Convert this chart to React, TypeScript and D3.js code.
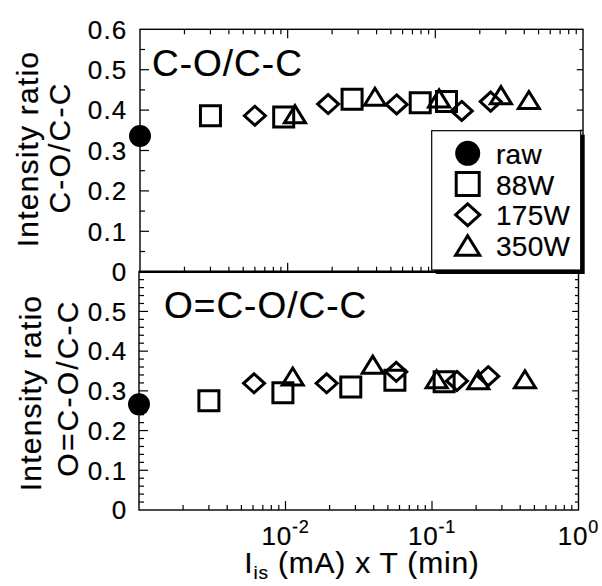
import React from 'react';
import * as d3 from 'd3';

// C-O/C-C panel (top)
const coRawX = [0.001];
const coRawY = [0.336];
const co88X = [0.003, 0.0094, 0.0273, 0.079, 0.119];
const co88Y = [0.386, 0.383, 0.427, 0.418, 0.421];
const co175X = [0.006, 0.0188, 0.0547, 0.151, 0.237];
const co175Y = [0.386, 0.415, 0.414, 0.398, 0.421];
const co350X = [0.0112, 0.039, 0.106, 0.278, 0.43];
const co350Y = [0.39, 0.433, 0.429, 0.437, 0.425];

// O=C-O/C-C panel (bottom)
const ocoRawX = [0.001];
const ocoRawY = [0.266];
const oco88X = [0.003, 0.0096, 0.0279, 0.0558, 0.121];
const oco88Y = [0.275, 0.295, 0.31, 0.327, 0.323];
const oco175X = [0.0061, 0.0191, 0.057, 0.148, 0.242];
const oco175Y = [0.319, 0.319, 0.348, 0.325, 0.337];
const oco350X = [0.0112, 0.0394, 0.1076, 0.207, 0.431];
const oco350Y = [0.336, 0.366, 0.329, 0.327, 0.329];

const legendLabels = ['raw', '88W', '175W', '350W'];
const yTickLabels = ['0', '0.1', '0.2', '0.3', '0.4', '0.5', '0.6'];
const xTickExponents = [-2, -1, 0];

const FONT = '"Liberation Sans", Arial, Helvetica, sans-serif';
// slight stroke to get the heavier look of the scanned text
const txt = { fontFamily: FONT, fill: '#000', stroke: '#000', strokeWidth: 0.2 };

// marker shapes, "size" is the half width
const shapes: any = {
  circle: { draw(ctx: any, s: number) { ctx.moveTo(s, 0); ctx.arc(0, 0, s, 0, 2 * Math.PI); } },
  square: { draw(ctx: any, s: number) { ctx.rect(-s, -s, 2 * s, 2 * s); } },
  diamond: {
    draw(ctx: any, s: number) {
      ctx.moveTo(0, -s * 0.95); ctx.lineTo(s * 1.05, 0); ctx.lineTo(0, s * 0.95); ctx.lineTo(-s * 1.05, 0); ctx.closePath();
    }
  },
  triangle: {
    draw(ctx: any, s: number) {
      ctx.moveTo(0, -s * 0.85); ctx.lineTo(s * 1.05, s * 0.85); ctx.lineTo(-s * 1.05, s * 0.85); ctx.closePath();
    }
  }
};
const shapeOrder = ['circle', 'square', 'diamond', 'triangle'];

function markerPath(shape: string, s: number) {
  return d3.symbol().type(shapes[shape]).size(s)() as string;
}

function Marker({ shape, x, y, s }: any) {
  const filled = shape === 'circle';
  return (
    <path d={markerPath(shape, s)} transform={`translate(${x},${y})`}
      fill={filled ? '#000' : 'none'} stroke={filled ? 'none' : '#000'}
      strokeWidth={3} strokeLinejoin="miter" />
  );
}

function Panel({ x, y, series, minorStep, label, labelX, labelY, showXLabels, showTopTicks, showTopTick06 }: any) {
  const [x0, x1] = x.range();
  const [y0, y1] = y.range(); // y0 bottom, y1 top
  const logTicks = x.ticks();
  const majorX = [1e-3, 1e-2, 1e-1, 1];
  const isMajorX = (t: number) => majorX.some(m => Math.abs(Math.log10(t) - Math.log10(m)) < 1e-6);
  const yMinor = d3.range(0, 0.6 + 1e-9, minorStep);
  const isMajorY = (v: number) => Math.abs(v * 10 - Math.round(v * 10)) < 1e-6;
  const ticks: any[] = [];
  logTicks.forEach((t: number, i: number) => {
    const len = isMajorX(t) ? 9 : 5;
    const px = x(t);
    if (px <= x0 + 0.5 || px >= x1 - 0.5) return;
    ticks.push(<line key={'xb' + i} x1={px} x2={px} y1={y0} y2={y0 - len} stroke="#000" strokeWidth={1.2} />);
    if (showTopTicks) ticks.push(<line key={'xt' + i} x1={px} x2={px} y1={y1} y2={y1 + len} stroke="#000" strokeWidth={1.2} />);
  });
  yMinor.forEach((v: number, i: number) => {
    const len = isMajorY(v) ? 9 : 5;
    const py = y(v);
    if (py >= y0 - 0.5 || py <= y1 + 0.5) return;
    ticks.push(<line key={'yl' + i} x1={x0} x2={x0 + len} y1={py} y2={py} stroke="#000" strokeWidth={1.2} />);
    ticks.push(<line key={'yr' + i} x1={x1} x2={x1 - len * 0.7} y1={py} y2={py} stroke="#000" strokeWidth={1.2} />);
  });
  return (
    <g>
      <rect x={x0} y={y1} width={x1 - x0} height={y0 - y1} fill="none" stroke="#000" strokeWidth={1.4} />
      {ticks}
      {yTickLabels.map((t, i) => (
        (i === 6 && !showTopTick06) ? null :
          <text key={'yl' + t} x={127.5} y={y(+t)} dy="0.36em" textAnchor="end" fontSize={26} letterSpacing={1.2}
            {...txt}>{t}</text>
      ))}
      {showXLabels && xTickExponents.map(e => (
        <text key={'xl' + e} x={x(Math.pow(10, e))} y={545} textAnchor="middle" fontSize={26} letterSpacing={0.8}
          {...txt}>10<tspan fontSize={18} dy={-12}>{e}</tspan></text>
      ))}
      <text x={labelX} y={labelY} fontSize={37} letterSpacing={1} {...txt}>{label}</text>
      {series.map((sr: any, si: number) => sr.xs.map((xv: number, i: number) => (
        <Marker key={si + '-' + i} shape={shapeOrder[si]} x={x(xv)} y={y(sr.ys[i])} s={si === 0 ? 11 : 10} />
      )))}
    </g>
  );
}

export default function App() {
  const W = 602, H = 586;
  const xTop = d3.scaleLog().domain([1e-3, 1]).range([140, 583]);
  const xBot = d3.scaleLog().domain([1e-3, 1]).range([139, 578.5]);
  const yTop = d3.scaleLinear().domain([0, 0.6]).range([271.7, 29.3]);
  const yBot = d3.scaleLinear().domain([0, 0.6]).range([510, 271.7]);

  const topSeries = [
    { xs: coRawX, ys: coRawY },
    { xs: co88X, ys: co88Y },
    { xs: co175X, ys: co175Y },
    { xs: co350X, ys: co350Y },
  ];
  const botSeries = [
    { xs: ocoRawX, ys: ocoRawY },
    { xs: oco88X, ys: oco88Y },
    { xs: oco175X, ys: oco175Y },
    { xs: oco350X, ys: oco350Y },
  ];

  const legendY = d3.scalePoint().domain(legendLabels).range([153.3, 245.5]);

  return (
    <svg width={W} height={H} style={{ position: 'absolute', left: 0, top: 0, background: '#fff' }}>
      <Panel x={xBot} y={yBot} series={botSeries} minorStep={0.02} label="O=C-O/C-C" labelX={164} labelY={318}
        showXLabels={true} showTopTicks={false} showTopTick06={false} />
      <Panel x={xTop} y={yTop} series={topSeries} minorStep={0.05} label="C-O/C-C" labelX={152} labelY={76}
        showXLabels={false} showTopTicks={true} showTopTick06={true} />
      <line x1={139} x2={583} y1={271.7} y2={271.7} stroke="#000" strokeWidth={2.4} />

      {/* legend */}
      <rect x={435.7} y={134.7} width={149} height={139.3} fill="#000" />
      <rect x={431.7} y={130.7} width={149} height={139.3} fill="#fff" stroke="#000" strokeWidth={1.2} />
      {legendLabels.map((l, i) => (
        <g key={l}>
          <Marker shape={shapeOrder[i]} x={467.7} y={legendY(l)} s={i === 0 ? 12.5 : 11.5} />
          <text x={496} y={(legendY(l) as number) + 10.5} fontSize={28} letterSpacing={0.3} {...txt}>{l}</text>
        </g>
      ))}

      {/* axis titles */}
      <g transform="translate(38,149) rotate(-90)">
        <text textAnchor="middle" fontSize={30} letterSpacing={1.2} {...txt}>Intensity ratio</text>
      </g>
      <g transform="translate(70,147.5) rotate(-90)">
        <text textAnchor="middle" fontSize={30} letterSpacing={2.2} {...txt}>C-O/C-C</text>
      </g>
      <g transform="translate(41,393) rotate(-90)">
        <text textAnchor="middle" fontSize={30} letterSpacing={1.2} {...txt}>Intensity ratio</text>
      </g>
      <g transform="translate(78,388) rotate(-90)">
        <text textAnchor="middle" fontSize={30} letterSpacing={2.2} {...txt}>O=C-O/C-C</text>
      </g>
      <text x={362} y={573} textAnchor="middle" fontSize={30} letterSpacing={0.8} {...txt}>
        I<tspan fontSize={19} dy={6}>is</tspan><tspan dy={-6}> (mA) x T (min)</tspan>
      </text>
    </svg>
  );
}
